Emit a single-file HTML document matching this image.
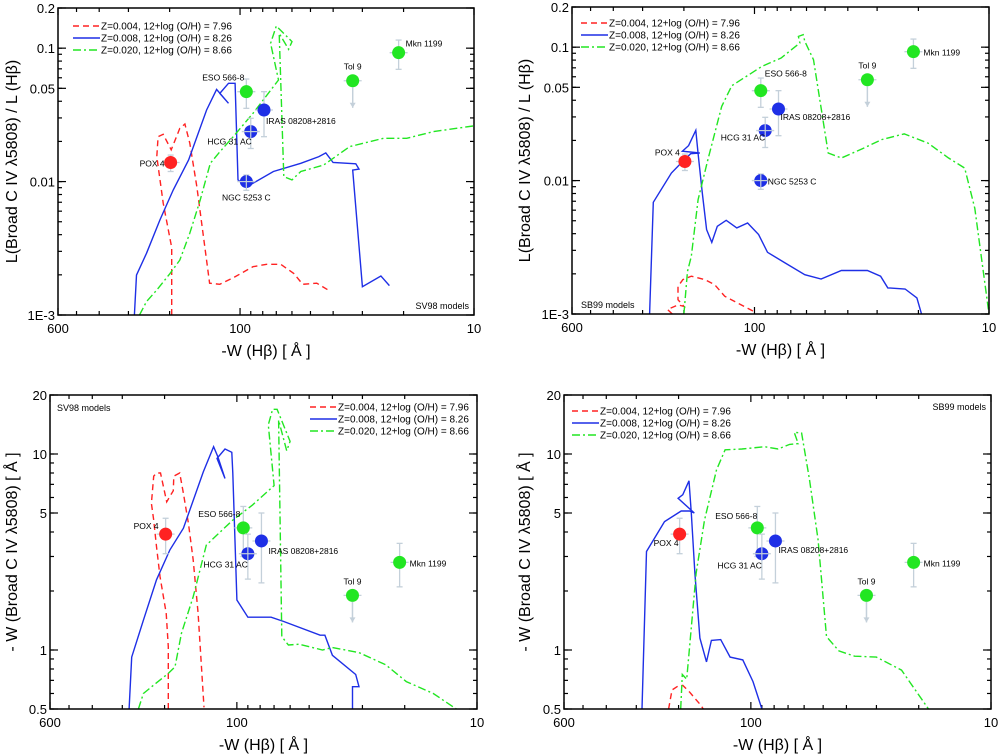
<!DOCTYPE html>
<html><head><meta charset="utf-8"><style>
html,body{margin:0;padding:0;background:#fff;}
svg{display:block;font-family:"Liberation Sans",Arial,sans-serif;}
</style></head><body>
<svg id="fig" width="998" height="755" viewBox="0 0 998 755"></svg>
<script>
// ---------- observed objects ----------
const objNames = ['POX 4','ESO 566-8','IRAS 08208+2816','HCG 31 AC','NGC 5253 C','Tol 9','Mkn 1199'];
const objW = [198, 94, 79, 90, 94, 33, 21];
const objLum = [0.0139, 0.0472, 0.0344, 0.0237, 0.0100, 0.057, 0.0925];
const objLumLo = [0.0119, 0.0354, 0.0217, 0.0177, 0.0086, 0.035, 0.0694];
const objLumHi = [0.0158, 0.0587, 0.0472, 0.0298, 0.0112, 0.057, 0.115];
const objEW = [3.9, 4.2, 3.6, 3.1, null, 1.9, 2.8];
const objEWLo = [3.1, 3.0, 2.2, 2.3, null, 1.37, 2.1];
const objEWHi = [4.7, 5.4, 5.0, 3.9, null, 1.9, 3.5];
const objUpper = [false, false, false, false, false, true, false];
const objGroup = ['r','g','b','b','b','g','g'];
const objCrossOver = [false, false, false, true, true, false, false];

// ---------- axis ticks ----------
const xTickVals = [600, 100, 10];
const xTickLabels = ['600', '100', '10'];
const yTopTickVals = [0.2, 0.1, 0.05, 0.01, 0.001];
const yTopTickLabels = ['0.2', '0.1', '0.05', '0.01', '1E-3'];
const yBotTickVals = [20, 10, 5, 1, 0.5];
const yBotTickLabels = ['20', '10', '5', '1', '0.5'];

// ---------- SV98 luminosity ratio (panel 1) ----------
const p1RedW = [196,196,199,213,227,224,213,197,187,181,172,164,153,144,135,122,107,88,77,67,59,54,47,41];
const p1RedL = [0.001,0.0032,0.0037,0.0069,0.0154,0.0217,0.0226,0.0173,0.0217,0.0251,0.027,0.0194,0.0092,0.0041,0.00173,0.0017,0.0019,0.0023,0.0024,0.0024,0.00205,0.0017,0.00173,0.0015];
const p1BlueW = [283,277,251,220,193,166,139,126,112,122,112,105,102,95,91,72,55,46,43,40,32,31,33,30,25,23];
const p1BlueL = [0.001,0.00199,0.0029,0.00515,0.00865,0.01452,0.0344,0.0491,0.0386,0.0458,0.0545,0.0545,0.0103,0.0094,0.0094,0.0119,0.0137,0.0154,0.0164,0.0139,0.0136,0.0124,0.0122,0.00163,0.00196,0.00166];
const p1GreenW = [269,251,227,199,181,164,148,134,122,107,88,68.5,74,70,60,62,68,65,60,55,44,34,24.4,19.4,14.9,10.1];
const p1GreenL = [0.001,0.00126,0.00154,0.00205,0.00258,0.0041,0.00728,0.0137,0.0167,0.0217,0.0325,0.0577,0.1087,0.1466,0.112,0.098,0.129,0.0109,0.0103,0.0119,0.0133,0.0183,0.0211,0.0211,0.0237,0.0261];

// ---------- SB99 luminosity ratio (panel 2) ----------
const p2RedW = [224,235,212,200,212,212,202,186,163,148,134,118,98];
const p2RedL = [0.001,0.00108,0.00117,0.00114,0.00128,0.00161,0.00181,0.00192,0.00181,0.00166,0.00136,0.00121,0.00102];
const p2BlueW = [280,270,226,198,187,171,203,191,178,174,167,160,152,144,132,119,107,96,88,74,61,52,42.6,33,29,27,22.8,20.3,19.4];
const p2BlueL = [0.001,0.00687,0.0114,0.0145,0.0159,0.0161,0.0166,0.0183,0.0238,0.0159,0.00807,0.00429,0.00344,0.00454,0.00504,0.00442,0.00481,0.00394,0.0029,0.00241,0.00197,0.00183,0.00212,0.00212,0.00192,0.00157,0.00154,0.00132,0.001];
const p2GreenW = [200,193,186,174,158,138,125,93,77,64,65,62,61,56,48.5,42.6,34,28.7,23,18.2,14.9,12.7,11.5,10];
const p2GreenL = [0.001,0.00209,0.0027,0.0072,0.01436,0.036,0.0514,0.0718,0.083,0.1074,0.1205,0.124,0.1106,0.0806,0.0161,0.01477,0.0176,0.0203,0.0224,0.0191,0.0148,0.0124,0.0062,0.001];

// ---------- SV98 equivalent width (panel 3) ----------
const p3RedW = [193,193,197,209,216,222,227,222,216,208,196,184,183,173,167,159,152,145,137];
const p3RedEW = [0.5,1.04,1.54,2.37,3.37,4.6,5.6,7.7,8.0,8.0,5.7,6.5,7.7,8.0,6.3,4.4,2.88,1.54,0.51];
const p3BlueW = [281,274,245,216,190,167,138,125,120,112,121,112,105,104,100,90,80,72,64,45,43,40,32,31,33,33];
const p3BlueEW = [0.5,0.92,1.42,2.28,3.24,4.18,8.1,10.9,9.7,7.5,9.5,10.6,10.2,8.0,1.8,1.47,1.47,1.47,1.40,1.19,1.19,0.94,0.75,0.65,0.65,0.5];
const p3GreenW = [257,245,216,193,181,170,152,134,104,86,70,74,71,68,60,62,67,65,61,55,44,40,31,24,19.7,15.2,12.2];
const p3GreenEW = [0.5,0.6,0.68,0.76,0.82,1.22,1.87,3.43,4.6,5.5,6.9,14.1,16.9,16.9,11.6,10.4,14.9,1.17,1.06,1.07,1.0,1.03,0.97,0.84,0.69,0.6,0.5];

// ---------- SB99 equivalent width (panel 4) ----------
const p4RedW = [220,213,201,192,180,161,158];
const p4RedEW = [0.5,0.625,0.655,0.66,0.61,0.52,0.5];
const p4BlueW = [284,272,229,195,180,172,201,192,181,177,171,163,153,146,133.5,122,108,98,90];
const p4BlueEW = [0.5,3.18,4.52,5.12,5.12,5.0,5.94,6.2,7.3,5.0,2.46,1.15,0.87,1.12,1.13,0.92,0.89,0.69,0.5];
const p4GreenW = [196,193,185,180,169,156,139,128,109,87.5,77,69,63.5,66,61.5,57,52.5,48.4,43,37,30,23.6,18.2];
const p4GreenEW = [0.5,0.75,0.71,1.04,2.46,4.6,8.3,10.5,10.6,10.9,10.6,11.2,11.3,12.9,12.8,7.4,3.64,1.17,0.99,0.93,0.92,0.79,0.5];

const NS = 'http://www.w3.org/2000/svg';
const svg = document.getElementById('fig');
const COL = {r:'#ff2222', b:'#1e2fe6', g:'#22e622'};
const DASH = {r:'6,4', b:'', g:'8,3,2,3'};

function mk(tag, attrs, parent) {
  const e = document.createElementNS(NS, tag);
  for (const k in attrs) e.setAttribute(k, attrs[k]);
  (parent || svg).appendChild(e);
  return e;
}

const panels = [
  {id:'p1', x0:58, x1:474, y0:8, y1:315, ymin:0.001, ymax:0.2, top:true, model:'SV98 models',
   series:[[p1RedW,p1RedL,'r'],[p1BlueW,p1BlueL,'b'],[p1GreenW,p1GreenL,'g']],
   legend:{x:73, y:26}, modelPos:{x:469, y:309, anchor:'end'},
   labels:[[-6,4,'end'],[-2,-11,'end'],[2,14,'start'],[1,13,'end'],[0,19,'middle'],[0,-11,'middle'],[7,-6,'start']]},
  {id:'p2', x0:572, x1:989, y0:7, y1:314, ymin:0.001, ymax:0.2, top:true, model:'SB99 models',
   series:[[p2RedW,p2RedL,'r'],[p2BlueW,p2BlueL,'b'],[p2GreenW,p2GreenL,'g']],
   legend:{x:581, y:23}, modelPos:{x:581, y:308, anchor:'start'},
   labels:[[-5,-6,'end'],[4,-14,'start'],[2,11,'start'],[0,10,'end'],[7,4,'start'],[0,-11,'middle'],[10,4,'start']]},
  {id:'p3', x0:50, x1:477, y0:395, y1:709, ymin:0.5, ymax:20, top:false, model:'SV98 models',
   series:[[p3RedW,p3RedEW,'r'],[p3BlueW,p3BlueEW,'b'],[p3GreenW,p3GreenEW,'g']],
   legend:{x:310, y:407}, modelPos:{x:57, y:411, anchor:'start'},
   labels:[[-7,-5,'end'],[-3,-11,'end'],[7,13,'start'],[0,14,'end'],[0,0,'middle'],[0,-11,'middle'],[10,4,'start']]},
  {id:'p4', x0:564, x1:991, y0:395, y1:709, ymin:0.5, ymax:20, top:false, model:'SB99 models',
   series:[[p4RedW,p4RedEW,'r'],[p4BlueW,p4BlueEW,'b'],[p4GreenW,p4GreenEW,'g']],
   legend:{x:572, y:411}, modelPos:{x:986, y:410, anchor:'end'},
   labels:[[-1,12,'end'],[0,-9,'end'],[3,12,'start'],[0,15,'end'],[0,0,'middle'],[0,-11,'middle'],[10,4,'start']]}
];
const legendText = ['Z=0.004, 12+log (O/H) = 7.96','Z=0.008, 12+log (O/H) = 8.26','Z=0.020, 12+log (O/H) = 8.66'];

panels.forEach(p => {
  const g = mk('g', {});
  
  
  const sx = w => p.x0 + (Math.log10(600) - Math.log10(w)) / (Math.log10(600) - 1) * (p.x1 - p.x0);
  const sy = v => p.y0 + (Math.log10(p.ymax) - Math.log10(v)) / (Math.log10(p.ymax) - Math.log10(p.ymin)) * (p.y1 - p.y0);
  const clip = mk('clipPath', {id:'clip-' + p.id}, g);
  mk('rect', {x:p.x0, y:p.y0, width:p.x1 - p.x0, height:p.y1 - p.y0}, clip);

  const xt = mk('g', {}, g);
  
  
  const xMinor = [500,400,300,200,90,80,70,60,50,40,30,20];
  xMinor.forEach(v => {
    const x = sx(v);
    mk('line', {x1:x, x2:x, y1:p.y1, y2:p.y1 - 4, stroke:'#000', 'stroke-width':1.2}, xt);
    mk('line', {x1:x, x2:x, y1:p.y0, y2:p.y0 + 4, stroke:'#000', 'stroke-width':1.2}, xt);
  });
  xTickVals.forEach((v, i) => {
    const x = sx(v);
    mk('line', {x1:x, x2:x, y1:p.y1, y2:p.y1 - 7, stroke:'#000', 'stroke-width':1.2}, xt);
    mk('line', {x1:x, x2:x, y1:p.y0, y2:p.y0 + 7, stroke:'#000', 'stroke-width':1.2}, xt);
    const t = mk('text', {x:x, y:p.y1 + 18, 'text-anchor':'middle', 'font-size':13}, xt);
    t.textContent = xTickLabels[i];
  });
  const yt = mk('g', {}, g);
  
  
  const lo = Math.floor(Math.log10(p.ymin)), hi = Math.ceil(Math.log10(p.ymax));
  for (let d = lo; d < hi; d++) for (let m = 1; m < 10; m++) {
    const v = m * Math.pow(10, d);
    if (v < p.ymin * 0.999 || v > p.ymax * 1.001) continue;
    const y = sy(v);
    mk('line', {x1:p.x0, x2:p.x0 + 4, y1:y, y2:y, stroke:'#000', 'stroke-width':1.2}, yt);
    mk('line', {x1:p.x1, x2:p.x1 - 4, y1:y, y2:y, stroke:'#000', 'stroke-width':1.2}, yt);
  }
  const yv = p.top ? yTopTickVals : yBotTickVals, yl = p.top ? yTopTickLabels : yBotTickLabels;
  yv.forEach((v, i) => {
    const y = sy(v);
    mk('line', {x1:p.x0, x2:p.x0 + 8, y1:y, y2:y, stroke:'#000', 'stroke-width':1.2}, yt);
    mk('line', {x1:p.x1, x2:p.x1 - 8, y1:y, y2:y, stroke:'#000', 'stroke-width':1.2}, yt);
    const t = mk('text', {x:p.x0 - 3, y:y + 5, 'text-anchor':'end', 'font-size':13}, yt);
    t.textContent = yl[i];
  });

  p.series.forEach(s => {
    const [ws, vs, c] = s;
    const d = ws.map((w, i) => (i ? 'L' : 'M') + sx(w).toFixed(1) + ',' + sy(vs[i]).toFixed(1)).join('');
    const path = mk('path', {d:d, fill:'none', stroke:COL[c], 'stroke-width':1.4, 'stroke-dasharray':DASH[c], 'clip-path':'url(#clip-' + p.id + ')'}, g);
    
    
  });

  const vals = p.top ? objLum : objEW, vlo = p.top ? objLumLo : objEWLo, vhi = p.top ? objLumHi : objEWHi;
  objNames.forEach((nm, i) => {
    if (vals[i] == null) return;
    const pg = mk('g', {}, g);
    
    
    const cx = sx(objW[i]), cy = sy(vals[i]);
    const ec = '#c4d0da';
    const drawBars = () => {
      if (objUpper[i]) {
        const ay = cy + 27;
        mk('line', {x1:cx, x2:cx, y1:cy, y2:ay, stroke:ec, 'stroke-width':1.3}, pg);
        mk('path', {d:`M${cx - 3},${ay - 5}L${cx},${ay}L${cx + 3},${ay - 5}Z`, fill:ec}, pg);
      } else {
        const y1 = sy(vhi[i]), y2 = sy(vlo[i]);
        mk('line', {x1:cx, x2:cx, y1:y1, y2:y2, stroke:ec, 'stroke-width':1.3}, pg);
        mk('line', {x1:cx - 3, x2:cx + 3, y1:y1, y2:y1, stroke:ec, 'stroke-width':1.3}, pg);
        mk('line', {x1:cx - 3, x2:cx + 3, y1:y2, y2:y2, stroke:ec, 'stroke-width':1.3}, pg);
      }
      mk('line', {x1:cx - 9, x2:cx + 9, y1:cy, y2:cy, stroke:ec, 'stroke-width':1.3}, pg);
    };
    drawBars();
    mk('circle', {cx:cx, cy:cy, r:6.5, fill:COL[objGroup[i]]}, pg);
    if (objUpper[i]) {
      mk('line', {x1:cx, x2:cx, y1:cy + 6.5, y2:cy + 27, stroke:ec, 'stroke-width':1.3}, pg);
    }
    if (objCrossOver[i]) {
      mk('line', {x1:cx, x2:cx, y1:cy - 6.5, y2:cy + 6.5, stroke:ec, 'stroke-width':1.2}, pg);
      mk('line', {x1:cx - 6.5, x2:cx + 6.5, y1:cy, y2:cy, stroke:ec, 'stroke-width':1.2}, pg);
    }
    const lb = p.labels[i];
    const t = mk('text', {x:cx + lb[0], y:cy + lb[1], 'text-anchor':lb[2], 'font-size':8.5}, pg);
    t.textContent = nm;
  });

  mk('rect', {x:p.x0, y:p.y0, width:p.x1 - p.x0, height:p.y1 - p.y0, fill:'none', stroke:'#000', 'stroke-width':1.5}, g);

  const lg = mk('g', {}, g);
  
  
  ['r','b','g'].forEach((c, i) => {
    const y = p.legend.y + i * 12;
    mk('line', {x1:p.legend.x, x2:p.legend.x + 27, y1:y, y2:y, stroke:COL[c], 'stroke-width':1.4, 'stroke-dasharray':DASH[c]}, lg);
    const t = mk('text', {x:p.legend.x + 28, y:y + 3.5, 'font-size':10}, lg);
    t.textContent = legendText[i];
  });
  const mt = mk('text', {x:p.modelPos.x, y:p.modelPos.y, 'text-anchor':p.modelPos.anchor, 'font-size':9}, g);
  
  
  mt.textContent = p.model;

  const xtT = mk('text', {x:(p.x0 + p.x1) / 2, y:p.y1 + 41, 'text-anchor':'middle', 'font-size':16}, g);
  
  
  xtT.textContent = '-W (H\u03B2)  [ \u00C5 ]';
  const ycx = p.x0 < 300 ? 12 : 525, ycy = (p.y0 + p.y1) / 2;
  const ytT = mk('text', {x:ycx, y:ycy, 'text-anchor':'middle', 'font-size':16, transform:`rotate(-90 ${ycx} ${ycy}) translate(0 5)`}, g);
  
  
  ytT.textContent = p.top ? 'L(Broad C IV \u03BB5808) / L (H\u03B2)' : '- W (Broad C IV \u03BB5808) [ \u00C5 ]';
});
</script>
</body></html>
